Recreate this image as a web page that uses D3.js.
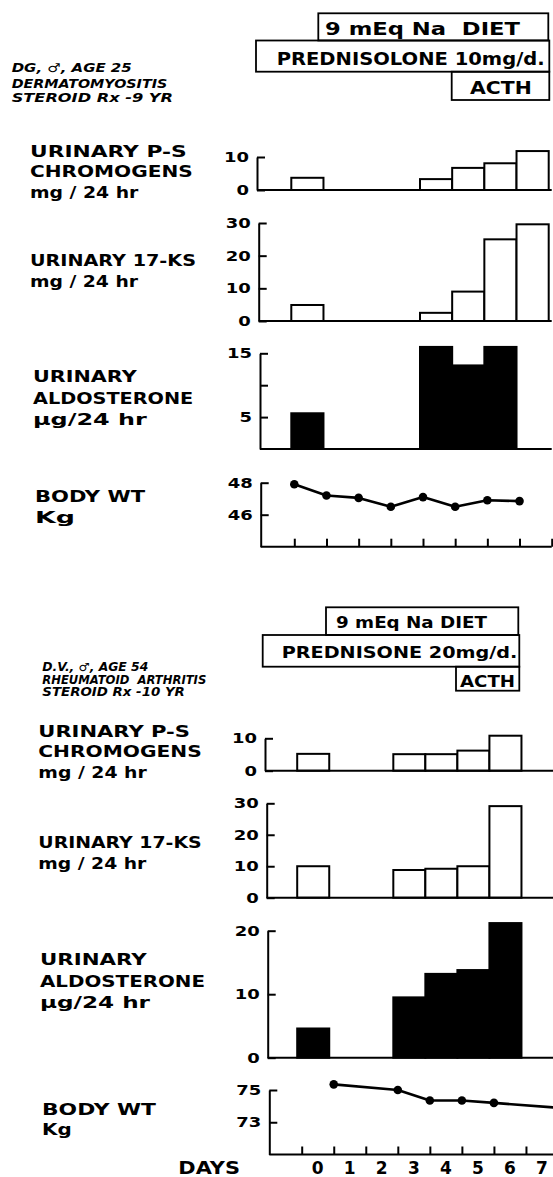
<!DOCTYPE html>
<html><head><meta charset="utf-8">
<script src="https://cdn.jsdelivr.net/npm/d3@7"></script>
<style>
html,body{margin:0;padding:0;background:#fff;}
svg{display:block;}
text{font-family:"DejaVu Sans",sans-serif;font-weight:bold;fill:#000;white-space:pre;}
</style></head><body>
<svg id="chart" width="553" height="1177"></svg>
<script>
// ---------------- DATA ----------------
const dayLabels = ["0","1","2","3","4","5","6","7"];
const tickDays = [0,1,2,3,4,5,6,7,8];

const psLabel = ["URINARY P-S","CHROMOGENS","mg / 24 hr"];
const ksLabel = ["URINARY 17-KS","mg / 24 hr"];
const aldoLabel = ["URINARY","ALDOSTERONE","\u03bcg/24 hr"];
const wtLabel = ["BODY WT","Kg"];

// Patient 1 (DG)
const dgInfo = ["DG, \u2642, AGE 25","DERMATOMYOSITIS","STEROID Rx -9 YR"];
const dgRegimen = ["9 mEq Na  DIET","PREDNISOLONE 10mg/d.","ACTH"];
const dgPSDays = [0,4,5,6,7];
const dgPS = [3.7,3.3,6.7,8.1,11.8];
const dgKSDays = [0,4,5,6,7];
const dgKS = [4.9,2.5,9,25,29.6];
const dgAldoDays = [0,4,5,6];
const dgAldo = [5.6,16,13.1,16];
const dgWtDays = [0,1,2,3,4,5,6,7];
const dgWt = [47.9,47.2,47.05,46.5,47.1,46.5,46.9,46.85];
const dgPSTicks = [0,10];
const dgKSTicks = [0,10,20,30];
const dgAldoTicks = [5,10,15];
const dgAldoTickLabels = ["5","","15"];
const dgWtTicks = [46,48];

// Patient 2 (D.V.)
const dvInfo = ["D.V., \u2642, AGE 54","RHEUMATOID  ARTHRITIS","STEROID Rx -10 YR"];
const dvRegimen = ["9 mEq Na DIET","PREDNISONE 20mg/d.","ACTH"];
const dvPSDays = [0,3,4,5,6];
const dvPS = [5.2,5.1,5.1,6.2,10.8];
const dvKSDays = [0,3,4,5,6];
const dvKS = [10.0,8.8,9.2,10.0,29.1];
const dvAldoDays = [0,3,4,5,6];
const dvAldo = [4.6,9.5,13.2,13.8,21.2];
const dvWtDays = [1,3,4,5,6,8];
const dvWt = [75.35,75.0,74.35,74.35,74.2,73.9];
const dvPSTicks = [0,10];
const dvKSTicks = [0,10,20,30];
const dvAldoTicks = [0,10,20];
const dvAldoTickLabels = ["0","10","20"];
const dvWtTicks = [73,75];

// ---------------- LAYOUT ----------------
const charts = [
 {
  info: dgInfo, regimen: dgRegimen, days: false,
  xRange: [294.3, 551.7], barShift: -3, right: 551.7,
  infoPos: {x: 11.7, y: [72.3, 87.5, 101.7], w: [120, 155.6, 161.3], size: 12},
  boxes: [[318.3,13.3,548.3,40.5],[256,40.5,549.3,71.7],[451.7,71.7,549.3,100]],
  boxText: [{x:325,y:35,w:195},{x:276.7,y:65,w:268},{x:470,y:94.3,w:61.7}], boxSize: 17,
  panels: [
   {kind:"bar", fill:"#fff", days:dgPSDays, vals:dgPS, ticks:dgPSTicks, tickLabels:null, label:psLabel,
    ax:257, y0:190, y1:157, dom:[0,10], lab:{x:30, y:[156.7,177.3,198], w:[156.7,162.7,108.3]}},
   {kind:"bar", fill:"#fff", days:dgKSDays, vals:dgKS, ticks:dgKSTicks, tickLabels:null, label:ksLabel,
    ax:258.7, y0:321, y1:223, dom:[0,30], lab:{x:30, y:[266,287], w:[166,108]}},
   {kind:"bar", fill:"#000", days:dgAldoDays, vals:dgAldo, ticks:dgAldoTicks, tickLabels:dgAldoTickLabels, label:aldoLabel,
    ax:260, y0:449, y1:353.3, dom:[0,15], lab:{x:33, y:[382,403.5,424.5], w:[103.7,160.3,113.7]}},
   {kind:"line", days:dgWtDays, vals:dgWt, ticks:dgWtTicks, tickLabels:null, label:wtLabel,
    ax:260.7, y0:546.7, y1:482.7, dom:[44,48], lab:{x:35, y:[502,523], w:[110,40]}}
  ]
 },
 {
  info: dvInfo, regimen: dvRegimen, days: true,
  xRange: [301.7, 558], barShift: -4.5, right: 553,
  infoPos: {x: 42.3, y: [671, 683.5, 696], w: [106, 164, 142.6], size: 11.5},
  boxes: [[326,607.3,518.3,635],[262.7,635,519.3,666.7],[456,666.7,519.3,690.7]],
  boxText: [{x:336,y:628.3,w:151},{x:281.7,y:658.3,w:235.6},{x:460,y:687.3,w:55}], boxSize: 16,
  panels: [
   {kind:"bar", fill:"#fff", days:dvPSDays, vals:dvPS, ticks:dvPSTicks, tickLabels:null, label:psLabel,
    ax:265, y0:770.7, y1:738.3, dom:[0,10], lab:{x:38.3, y:[737.3,757.3,778.3], w:[151.7,163.4,108.4]}},
   {kind:"bar", fill:"#fff", days:dvKSDays, vals:dvKS, ticks:dvKSTicks, tickLabels:null, label:ksLabel,
    ax:266.7, y0:897.7, y1:803.3, dom:[0,30], lab:{x:38.3, y:[847.7,869.3], w:[163.4,108]}},
   {kind:"bar", fill:"#000", days:dvAldoDays, vals:dvAldo, ticks:dvAldoTicks, tickLabels:dvAldoTickLabels, label:aldoLabel,
    ax:267.7, y0:1057.7, y1:930.7, dom:[0,20], lab:{x:40, y:[965,986.7,1008.3], w:[106.7,165,110]}},
   {kind:"line", days:dvWtDays, vals:dvWt, ticks:dvWtTicks, tickLabels:null, label:wtLabel,
    ax:269.3, y0:1154.5, y1:1090, dom:[71,75], lab:{x:42, y:[1115,1135], w:[114,29.7]}}
  ]
 }
];

// ---------------- DRAW ----------------
const svg = d3.select("#chart");
svg.append("rect").attr("width",553).attr("height",1177).attr("fill","#fff");

function stretchText(g, str, x, y, w, size, italic) {
  const t = g.append("text").attr("x", x).attr("y", y).attr("font-size", size).text(str)
    .attr("textLength", w).attr("lengthAdjust", "spacingAndGlyphs");
  if (italic) t.attr("font-style", "italic");
  return t;
}

charts.forEach(c => {
  const g = svg.append("g");
  const xs = d3.scaleLinear().domain([0, 8]).range(c.xRange);

  // patient info
  c.info.forEach((s, i) => stretchText(g, s, c.infoPos.x, c.infoPos.y[i], c.infoPos.w[i], c.infoPos.size, true));

  // regimen boxes
  c.boxes.forEach(b => g.append("rect").attr("x", b[0]).attr("y", b[1])
    .attr("width", b[2]-b[0]).attr("height", b[3]-b[1])
    .attr("fill", "none").attr("stroke", "#000").attr("stroke-width", 1.8));
  c.regimen.forEach((s, i) => stretchText(g, s, c.boxText[i].x, c.boxText[i].y, c.boxText[i].w, c.boxSize, false));

  c.panels.forEach(p => {
    const y = d3.scaleLinear().domain(p.dom).range([p.y0, p.y1]);
    const pg = g.append("g");

    // left label
    p.label.forEach((s, i) => stretchText(pg, s, p.lab.x, p.lab.y[i], p.lab.w[i], 15, false));

    if (p.kind === "bar") {
      pg.selectAll("rect.bar").data(p.days.map((d, i) => ({d, v: p.vals[i]})))
        .enter().append("rect").attr("class", "bar")
        .attr("x", e => xs(e.d) + c.barShift)
        .attr("width", e => xs(e.d + 1) - xs(e.d))
        .attr("y", e => y(e.v))
        .attr("height", e => y(p.dom[0]) - y(e.v))
        .attr("fill", p.fill).attr("stroke", "#000").attr("stroke-width", 2)
        .attr("stroke-linejoin", "miter");
      // baseline
      pg.append("line").attr("x1", p.ax).attr("x2", c.right)
        .attr("y1", y(p.dom[0])).attr("y2", y(p.dom[0]))
        .attr("stroke", "#000").attr("stroke-width", 2);
    } else {
      // bottom day axis with upward ticks
      const xa = d3.axisBottom(xs).tickValues(tickDays).tickSize(-8).tickSizeOuter(0).tickFormat("");
      const xg = pg.append("g").attr("transform", `translate(0,${p.y0})`).call(xa);
      xg.select(".domain").remove();
      xg.selectAll(".tick line").attr("stroke-width", 2);
      pg.append("line").attr("x1", p.ax).attr("x2", c.right)
        .attr("y1", p.y0).attr("y2", p.y0).attr("stroke", "#000").attr("stroke-width", 2);
      const pts = p.days.map((d, i) => [xs(d), y(p.vals[i])]);
      pg.append("path").attr("d", d3.line()(pts)).attr("fill", "none")
        .attr("stroke", "#000").attr("stroke-width", 2.6).attr("stroke-linejoin", "round");
      pg.selectAll("circle").data(pts).enter().append("circle")
        .attr("cx", d => d[0]).attr("cy", d => d[1]).attr("r", 4.3).attr("fill", "#000");
      if (c.days) {
        stretchText(pg, "DAYS", 178.3, 1174.3, 61.7, 17, false);
        pg.selectAll("text.day").data(dayLabels).enter().append("text").attr("class", "day")
          .attr("x", (d, i) => xs(i + 0.5)).attr("y", 1174.3)
          .attr("text-anchor", "middle").attr("font-size", 17).text(d => d);
      }
    }

    // y axis
    const ya = d3.axisLeft(y).tickValues(p.ticks).tickSize(-8).tickSizeOuter(0).tickPadding(8)
      .tickFormat((d, i) => p.tickLabels ? p.tickLabels[i] : String(d));
    const yg = pg.append("g").attr("transform", `translate(${p.ax},0)`).call(ya)
      .attr("font-family", null).attr("font-size", null);
    yg.select(".domain").attr("stroke-width", 2);
    yg.selectAll(".tick line").attr("stroke-width", 2);
    yg.selectAll(".tick text").attr("font-size", 14).attr("fill", "#000")
      .each(function() {
        const s = d3.select(this).text();
        if (s.length) d3.select(this).attr("textLength", s.length * 12.5).attr("lengthAdjust", "spacingAndGlyphs");
      });
  });
});
</script>
</body></html>
